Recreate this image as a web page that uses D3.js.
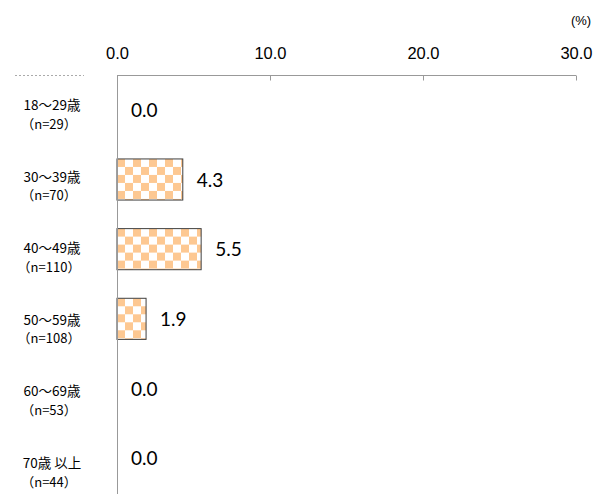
<!DOCTYPE html>
<html><head><meta charset="utf-8">
<script src="https://cdn.jsdelivr.net/npm/d3@7"></script>
<style>body{margin:0;background:#fff}</style>
</head><body>
<svg id="c" width="606" height="494"></svg>
<script>
const categories = ["18～29歳","30～39歳","40～49歳","50～59歳","60～69歳","70歳 以上"];
const sampleSizes = ["（n=29）","（n=70）","（n=110）","（n=108）","（n=53）","（n=44）"];
const values = [0.0, 4.3, 5.5, 1.9, 0.0, 0.0];
const tickValues = [0, 10, 20, 30];
const unitLabel = "(%)";

const svg = d3.select("#c");
const x = d3.scaleLinear().domain([0, 30]).range([117, 576]);
const y = d3.scaleBand().domain(categories).range([75, 493]).paddingInner(0.41).paddingOuter(0.205);
const labelY = d3.scalePoint().domain(categories).range([110, 468]);

const defs = svg.append("defs");
const cell = 8;
values.forEach((v, i) => {
  const p = defs.append("pattern").attr("id", "chk" + i)
    .attr("patternUnits", "userSpaceOnUse")
    .attr("width", cell * 2).attr("height", cell * 2)
    .attr("x", x(0)).attr("y", y(categories[i]));
  p.append("rect").attr("width", cell * 2).attr("height", cell * 2).attr("fill", "#fff");
  p.append("rect").attr("width", cell).attr("height", cell).attr("fill", "#FDC892");
  p.append("rect").attr("x", cell).attr("y", cell).attr("width", cell).attr("height", cell).attr("fill", "#FDC892");
});

// bars
svg.selectAll(".bar").data(values).enter().append("rect")
  .attr("class", "bar")
  .attr("x", x(0))
  .attr("y", (d, i) => y(categories[i]))
  .attr("width", d => x(d) - x(0))
  .attr("height", y.bandwidth())
  .attr("fill", (d, i) => `url(#chk${i})`)
  .attr("stroke", d => d > 0 ? "#404040" : "none")
  .attr("stroke-width", 1);

// top axis
const axis = d3.axisTop(x).tickValues(tickValues).tickFormat(d3.format(".1f")).tickSize(-5).tickPadding(0);
const gx = svg.append("g").attr("transform", "translate(0,75.5)").call(axis);
gx.select(".domain").attr("stroke", "#999").attr("d", `M${x(0)},0H${x(30)}`);
gx.selectAll(".tick line").attr("stroke", "#999");
gx.selectAll(".tick text").attr("y", -17).attr("fill", "#000")
  .style("font-family", "'Liberation Sans', Arial, sans-serif").style("font-size", "16.5px");

// vertical axis line
svg.append("line").attr("x1", x(0) + 0.5).attr("x2", x(0) + 0.5).attr("y1", 75).attr("y2", 494)
  .attr("stroke", "#999");

// faint dotted remnant at top-left
svg.append("line").attr("x1", 15).attr("x2", 84).attr("y1", 75.5).attr("y2", 75.5)
  .attr("stroke", "#aaa").attr("stroke-dasharray", "2,2");

// unit label
svg.append("text").attr("x", 581).attr("y", 25).attr("text-anchor", "middle")
  .style("font-family", "'Liberation Sans', Arial, sans-serif").style("font-size", "13px").text(unitLabel);

// value labels
svg.selectAll(".val").data(values).enter().append("text")
  .attr("x", d => x(d) + 14)
  .attr("y", (d, i) => y(categories[i]) + y.bandwidth() / 2 + 7)
  .style("font-family", "Lato, 'Open Sans', sans-serif").style("font-size", "19px")
  .text(d => d.toFixed(1));

// category labels
const lg = svg.selectAll(".cat").data(categories).enter().append("g");
lg.append("text").attr("x", 52).attr("y", d => labelY(d)).attr("text-anchor", "middle")
  .style("font-family", "'Noto Sans CJK JP', sans-serif").style("font-size", "13.5px")
  .text(d => d);
lg.append("text").attr("x", 49).attr("y", (d) => labelY(d) + 18.5).attr("text-anchor", "middle")
  .style("font-family", "'Noto Sans CJK JP', sans-serif").style("font-size", "13px")
  .text((d, i) => sampleSizes[i]);
</script>
</body></html>
